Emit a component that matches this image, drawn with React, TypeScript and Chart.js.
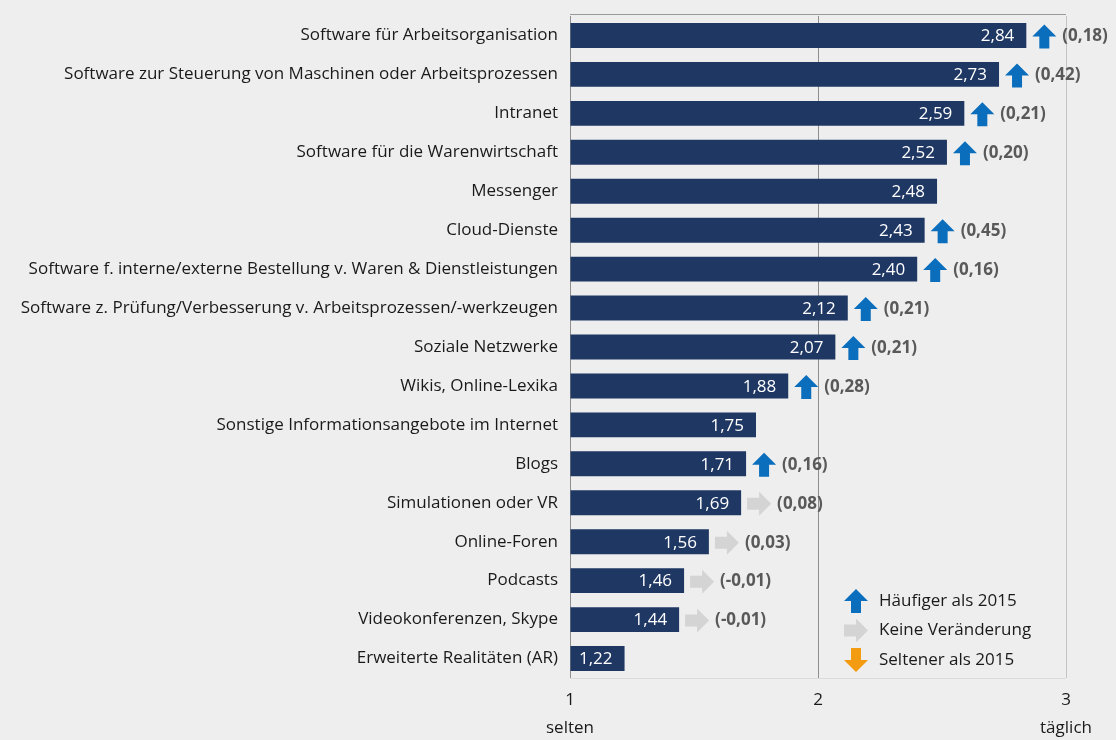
import React, { useEffect, useRef } from "react";
import { Chart, registerables } from "chart.js";

Chart.register(...registerables);

const categories = [
  "Software für Arbeitsorganisation",
  "Software zur Steuerung von Maschinen oder Arbeitsprozessen",
  "Intranet",
  "Software für die Warenwirtschaft",
  "Messenger",
  "Cloud-Dienste",
  "Software f. interne/externe Bestellung v. Waren & Dienstleistungen",
  "Software z. Prüfung/Verbesserung v. Arbeitsprozessen/-werkzeugen",
  "Soziale Netzwerke",
  "Wikis, Online-Lexika",
  "Sonstige Informationsangebote im Internet",
  "Blogs",
  "Simulationen oder VR",
  "Online-Foren",
  "Podcasts",
  "Videokonferenzen, Skype",
  "Erweiterte Realitäten (AR)",
];

const values = [2.84, 2.73, 2.59, 2.52, 2.48, 2.43, 2.4, 2.12, 2.07, 1.88, 1.75, 1.71, 1.69, 1.56, 1.46, 1.44, 1.22];

const changes: (number | null)[] = [0.18, 0.42, 0.21, 0.2, null, 0.45, 0.16, 0.21, 0.21, 0.28, null, 0.16, 0.08, 0.03, -0.01, -0.01, null];

const trends: string[] = ["up", "up", "up", "up", "", "up", "up", "up", "up", "up", "", "up", "same", "same", "same", "same", ""];

const xTickLabels: Record<number, string[]> = { 1: ["1", "selten"], 2: ["2", ""], 3: ["3", "täglich"] };

const legendLabels = ["Häufiger als 2015", "Keine Veränderung", "Seltener als 2015"];
const legendTrends = ["up", "same", "down"];

const FONT = "'Open Sans', sans-serif";
const BAR = "#1f3763";
const COLORS: Record<string, string> = { up: "#0a6ebd", same: "#d4d4d4", down: "#f39c12" };

const fmt = (v: number) => v.toFixed(2).replace(".", ",");

function drawArrow(ctx: CanvasRenderingContext2D, type: string, x: number, cy: number) {
  const s = 24;
  const h = s / 2;
  ctx.save();
  ctx.fillStyle = COLORS[type];
  ctx.beginPath();
  if (type === "up") {
    ctx.moveTo(x, cy);
    ctx.lineTo(x + h, cy - h);
    ctx.lineTo(x + s, cy);
    ctx.lineTo(x + h + 5, cy);
    ctx.lineTo(x + h + 5, cy + h);
    ctx.lineTo(x + h - 5, cy + h);
    ctx.lineTo(x + h - 5, cy);
    ctx.closePath();
  } else if (type === "down") {
    ctx.moveTo(x, cy);
    ctx.lineTo(x + h, cy + h);
    ctx.lineTo(x + s, cy);
    ctx.lineTo(x + h + 5, cy);
    ctx.lineTo(x + h + 5, cy - h);
    ctx.lineTo(x + h - 5, cy - h);
    ctx.lineTo(x + h - 5, cy);
    ctx.closePath();
  } else {
    ctx.moveTo(x + h, cy - h);
    ctx.lineTo(x + s, cy);
    ctx.lineTo(x + h, cy + h);
    ctx.lineTo(x + h, cy + 6);
    ctx.lineTo(x, cy + 6);
    ctx.lineTo(x, cy - 6);
    ctx.lineTo(x + h, cy - 6);
    ctx.closePath();
  }
  ctx.fill();
  ctx.restore();
}

const annotations = {
  id: "annotations",
  beforeDatasetsDraw(chart: any) {
    const { ctx, chartArea } = chart;
    ctx.save();
    ctx.strokeStyle = "#9a9a9a";
    ctx.lineWidth = 1;
    ctx.beginPath();
    ctx.moveTo(chartArea.left, chartArea.top - 1.5);
    ctx.lineTo(chartArea.right, chartArea.top - 1.5);
    ctx.stroke();
    ctx.strokeStyle = "#dcdcdc";
    ctx.beginPath();
    ctx.moveTo(chartArea.left, chartArea.bottom + 0.5);
    ctx.lineTo(chartArea.right, chartArea.bottom + 0.5);
    ctx.stroke();
    ctx.restore();
  },
  afterDatasetsDraw(chart: any) {
    const { ctx, chartArea } = chart;
    const meta = chart.getDatasetMeta(0);
    ctx.save();
    meta.data.forEach((bar: any, i: number) => {
      const x = bar.x;
      const y = bar.y;
      ctx.font = `17px ${FONT}`;
      ctx.fillStyle = "#ffffff";
      ctx.textAlign = "right";
      ctx.textBaseline = "middle";
      ctx.fillText(fmt(values[i]), x - 12, y + 1);
      const t = trends[i];
      if (t) {
        drawArrow(ctx, t, x + 6, y + 1);
        const c = changes[i];
        if (c !== null) {
          ctx.font = `bold 17px ${FONT}`;
          ctx.fillStyle = "#595959";
          ctx.textAlign = "left";
          ctx.fillText(`(${fmt(c)})`, x + 36, y + 1);
        }
      }
    });
    // legend
    const lx = chartArea.left + 274;
    const ly0 = chartArea.bottom - 77;
    legendLabels.forEach((lab, k) => {
      const cy = ly0 + k * 29.5;
      drawArrow(ctx, legendTrends[k], lx, cy);
      ctx.font = `17px ${FONT}`;
      ctx.fillStyle = "#1a1a1a";
      ctx.textAlign = "left";
      ctx.textBaseline = "middle";
      ctx.fillText(lab, lx + 35, cy);
    });
    ctx.restore();
  },
};

export default function App() {
  const ref = useRef<HTMLCanvasElement>(null);
  useEffect(() => {
    if (!ref.current) return;
    const chart = new Chart(ref.current, {
      type: "bar",
      data: {
        labels: categories,
        datasets: [
          {
            data: values,
            base: 1,
            backgroundColor: BAR,
            categoryPercentage: 0.64,
            barPercentage: 1,
          } as any,
        ],
      },
      options: {
        indexAxis: "y",
        animation: false,
        responsive: true,
        maintainAspectRatio: false,
        layout: { padding: { top: 16, right: 50, left: 0, bottom: 0 } },
        plugins: { legend: { display: false }, tooltip: { enabled: false } },
        scales: {
          x: {
            min: 1,
            max: 3,
            afterFit: (s: any) => {
              s.height = 62;
              s.paddingLeft = 0;
              s.paddingRight = 0;
            },
            ticks: {
              stepSize: 1,
              padding: 8,
              color: "#1a1a1a",
              font: { family: FONT, size: 17, lineHeight: 1.65 },
              callback: (v: any) => xTickLabels[Number(v)] ?? "",
              maxRotation: 0,
            },
            grid: {
              drawTicks: false,
              color: (c: any) => (c.tick && c.tick.value === 3 ? "#c4c4c4" : "#8e8e8e"),
            },
            border: { display: false },
          },
          y: {
            afterFit: (s: any) => {
              s.width = 570;
              s.paddingTop = 0;
              s.paddingBottom = 0;
            },
            ticks: {
              padding: 12,
              color: "#1a1a1a",
              font: { family: FONT, size: 17 },
            },
            grid: { display: false, drawTicks: false },
            border: { display: false },
          },
        },
      },
      plugins: [annotations],
    });
    return () => chart.destroy();
  }, []);
  return (
    <div style={{ position: "fixed", left: 0, top: 0, width: 1116, height: 740, background: "#eeeeee" }}>
      <canvas ref={ref} />
    </div>
  );
}
